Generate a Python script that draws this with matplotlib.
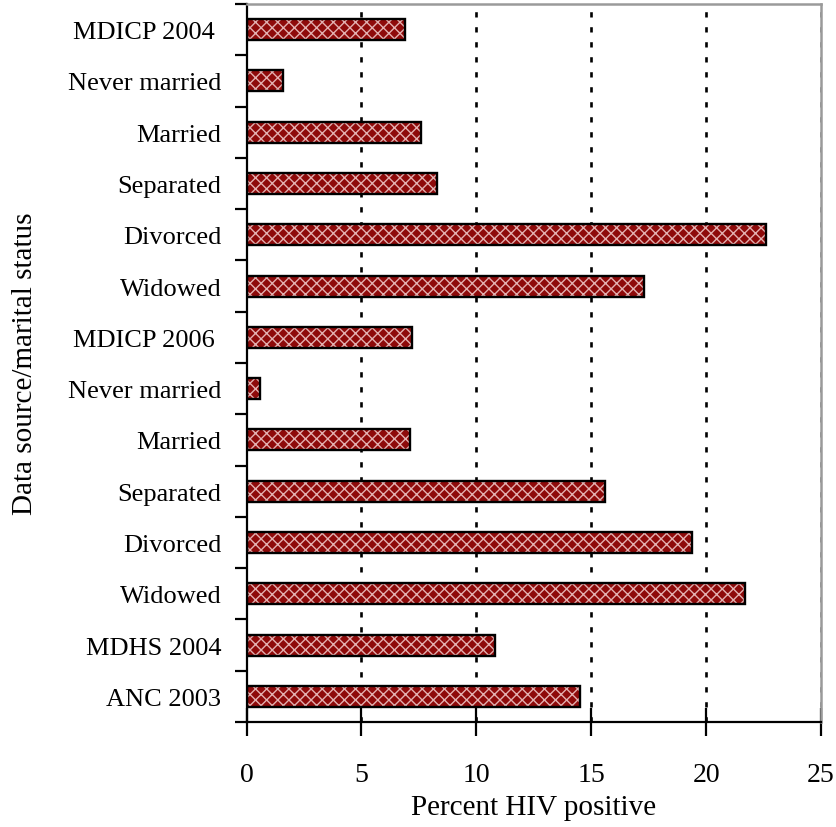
import numpy as np
import matplotlib
matplotlib.use("Agg")
import matplotlib.pyplot as plt

plt.rcParams.update({
    "font.family": ["Liberation Serif", "DejaVu Serif"],
    "hatch.linewidth": 1.0,
    "lines.scale_dashes": False,
})

labels = ["MDICP 2004 ", "Never married", "Married", "Separated", "Divorced",
          "Widowed", "MDICP 2006 ", "Never married", "Married", "Separated",
          "Divorced", "Widowed", "MDHS 2004", "ANC 2003"]
values = [6.9, 1.6, 7.6, 8.3, 22.6, 17.3, 7.2, 0.6, 7.1, 15.6, 19.4, 21.7,
          10.8, 14.5]
xticks = [0, 5, 10, 15, 20, 25]

BAR_RED = "#8E0A0A"
HATCH_PINK = "#E3B0B0"

fig = plt.figure(figsize=(8.36, 8.28), dpi=100)
ax = fig.add_axes([246.5 / 836, 1 - 723 / 828, (821 - 246.5) / 836, (723 - 5) / 828])

n = len(labels)
ypos = np.arange(n)[::-1]

# gridlines first so bars sit on top
for xv in xticks[1:]:
    col = "black" if xv < 25 else "#6e6e6e"
    ax.axvline(xv, color=col, lw=1.9, dashes=(3.8, 7.0), zorder=1)

# fill + pale crosshatch, then black outline on top
ax.barh(ypos, values, height=0.41, color=BAR_RED, edgecolor=HATCH_PINK,
        hatch="xxx", linewidth=0, zorder=2)
ax.barh(ypos, values, height=0.41, fill=False, edgecolor="black",
        linewidth=1.7, zorder=3)

ax.set_xlim(0, 25)
ax.set_ylim(-0.5, n - 0.5)

ax.set_xticks(xticks)
ax.set_xticklabels([str(v) for v in xticks])
ax.tick_params(axis="x", direction="inout", length=20, width=1.6,
               pad=19, labelsize=20)

# category boundaries get the tick marks, names sit between them
ax.set_yticks(np.arange(-0.5, n, 1.0))
ax.set_yticklabels([])
ax.set_yticks(ypos, minor=True)
ax.set_yticklabels(labels, minor=True)
ax.tick_params(axis="y", which="major", direction="out", length=9, width=1.6)
ax.tick_params(axis="y", which="minor", length=0, pad=18, labelsize=19)

for side in ("left", "bottom"):
    ax.spines[side].set_linewidth(1.6)
    ax.spines[side].set_color("black")
for side in ("top", "right"):
    ax.spines[side].set_linewidth(1.8)
    ax.spines[side].set_color("#9a9a9a")

ax.set_xlabel("Percent HIV positive", fontsize=21, labelpad=5)
ax.set_ylabel("Data source/marital status", fontsize=21, labelpad=22)

fig.savefig("out.png", dpi=100, facecolor="white")
